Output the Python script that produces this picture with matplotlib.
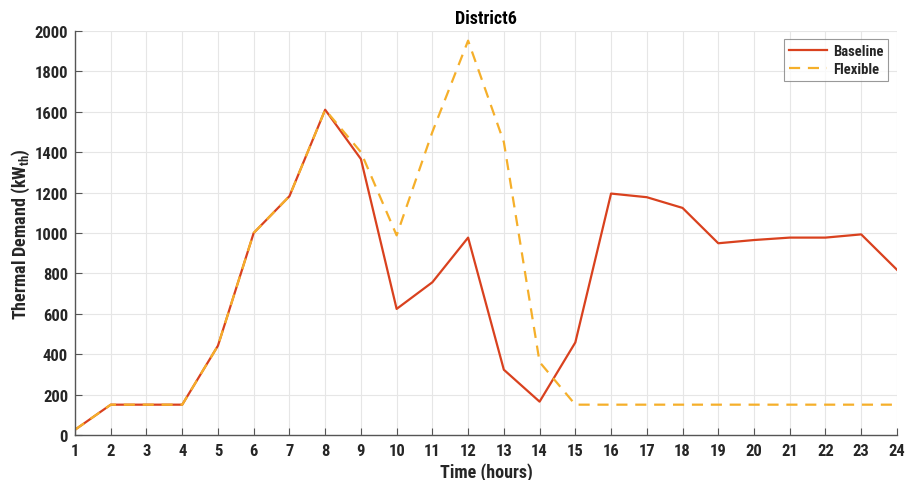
import matplotlib
matplotlib.use("Agg")
import matplotlib.pyplot as plt

plt.rcParams['font.family'] = ['Roboto Condensed', 'Liberation Sans', 'DejaVu Sans']
plt.rcParams['font.weight'] = 'bold'
plt.rcParams['mathtext.fontset'] = 'custom'
plt.rcParams['mathtext.bf'] = 'Roboto Condensed:bold'
plt.rcParams['mathtext.rm'] = 'Roboto Condensed:bold'

hours = list(range(1, 25))
baseline = [26, 150, 150, 150, 442, 1000, 1182, 1610, 1366, 624, 756, 977,
            323, 165, 458, 1195, 1177, 1124, 949, 965, 977, 977, 993, 818]
flexible = [26, 150, 150, 150, 442, 1000, 1182, 1610, 1400, 988, 1500, 1952,
            1450, 361, 150, 150, 150, 150, 150, 150, 150, 150, 150, 150]
y_ticks = list(range(0, 2001, 200))

text_color = '#262626'
axis_color = '#555555'

fig = plt.figure(figsize=(9.06, 4.81), dpi=100)
ax = fig.add_axes([0.0828, 0.0936, 0.9072, 0.84])

ax.plot(hours, baseline, color='#D9411E', lw=1.6, label='Baseline')
ax.plot(hours, flexible, color='#F5AF2A', lw=1.6, ls=(0, (5, 3.5)), label='Flexible')

ax.set_xlim(1, 24)
ax.set_ylim(0, 2000)
ax.set_xticks(hours)
ax.set_yticks(y_ticks)
ax.grid(True, color='#E6E6E6', lw=0.8)
ax.set_axisbelow(True)

for side in ('top', 'right'):
    ax.spines[side].set_visible(False)
for side in ('left', 'bottom'):
    ax.spines[side].set_color(axis_color)
    ax.spines[side].set_linewidth(1.0)

ax.tick_params(direction='in', length=5, width=0.8, color=axis_color,
               labelcolor=text_color, labelsize=12, pad=6)
ax.tick_params(axis='y', pad=5)
for lbl in ax.get_xticklabels() + ax.get_yticklabels():
    lbl.set_fontweight('bold')

ax.set_title('District6', fontsize=13, fontweight='bold', color='black', pad=6)
ax.set_xlabel('Time (hours)', fontsize=13, fontweight='bold', color=text_color, labelpad=3)
ax.set_ylabel(r'Thermal Demand (kW$_{\mathbf{th}}$)', fontsize=13, fontweight='bold',
              color=text_color, labelpad=2)

leg = ax.legend(loc='upper right', fontsize=10.5, frameon=True, fancybox=False,
                edgecolor='#808080', handlelength=2.6, handletextpad=0.4,
                borderpad=0.35, labelspacing=0.25, borderaxespad=0.0,
                bbox_to_anchor=(0.9895, 0.98))
leg.get_frame().set_linewidth(0.8)
for t in leg.get_texts():
    t.set_fontweight('bold')
    t.set_color(text_color)

fig.savefig('out.png', dpi=100)
